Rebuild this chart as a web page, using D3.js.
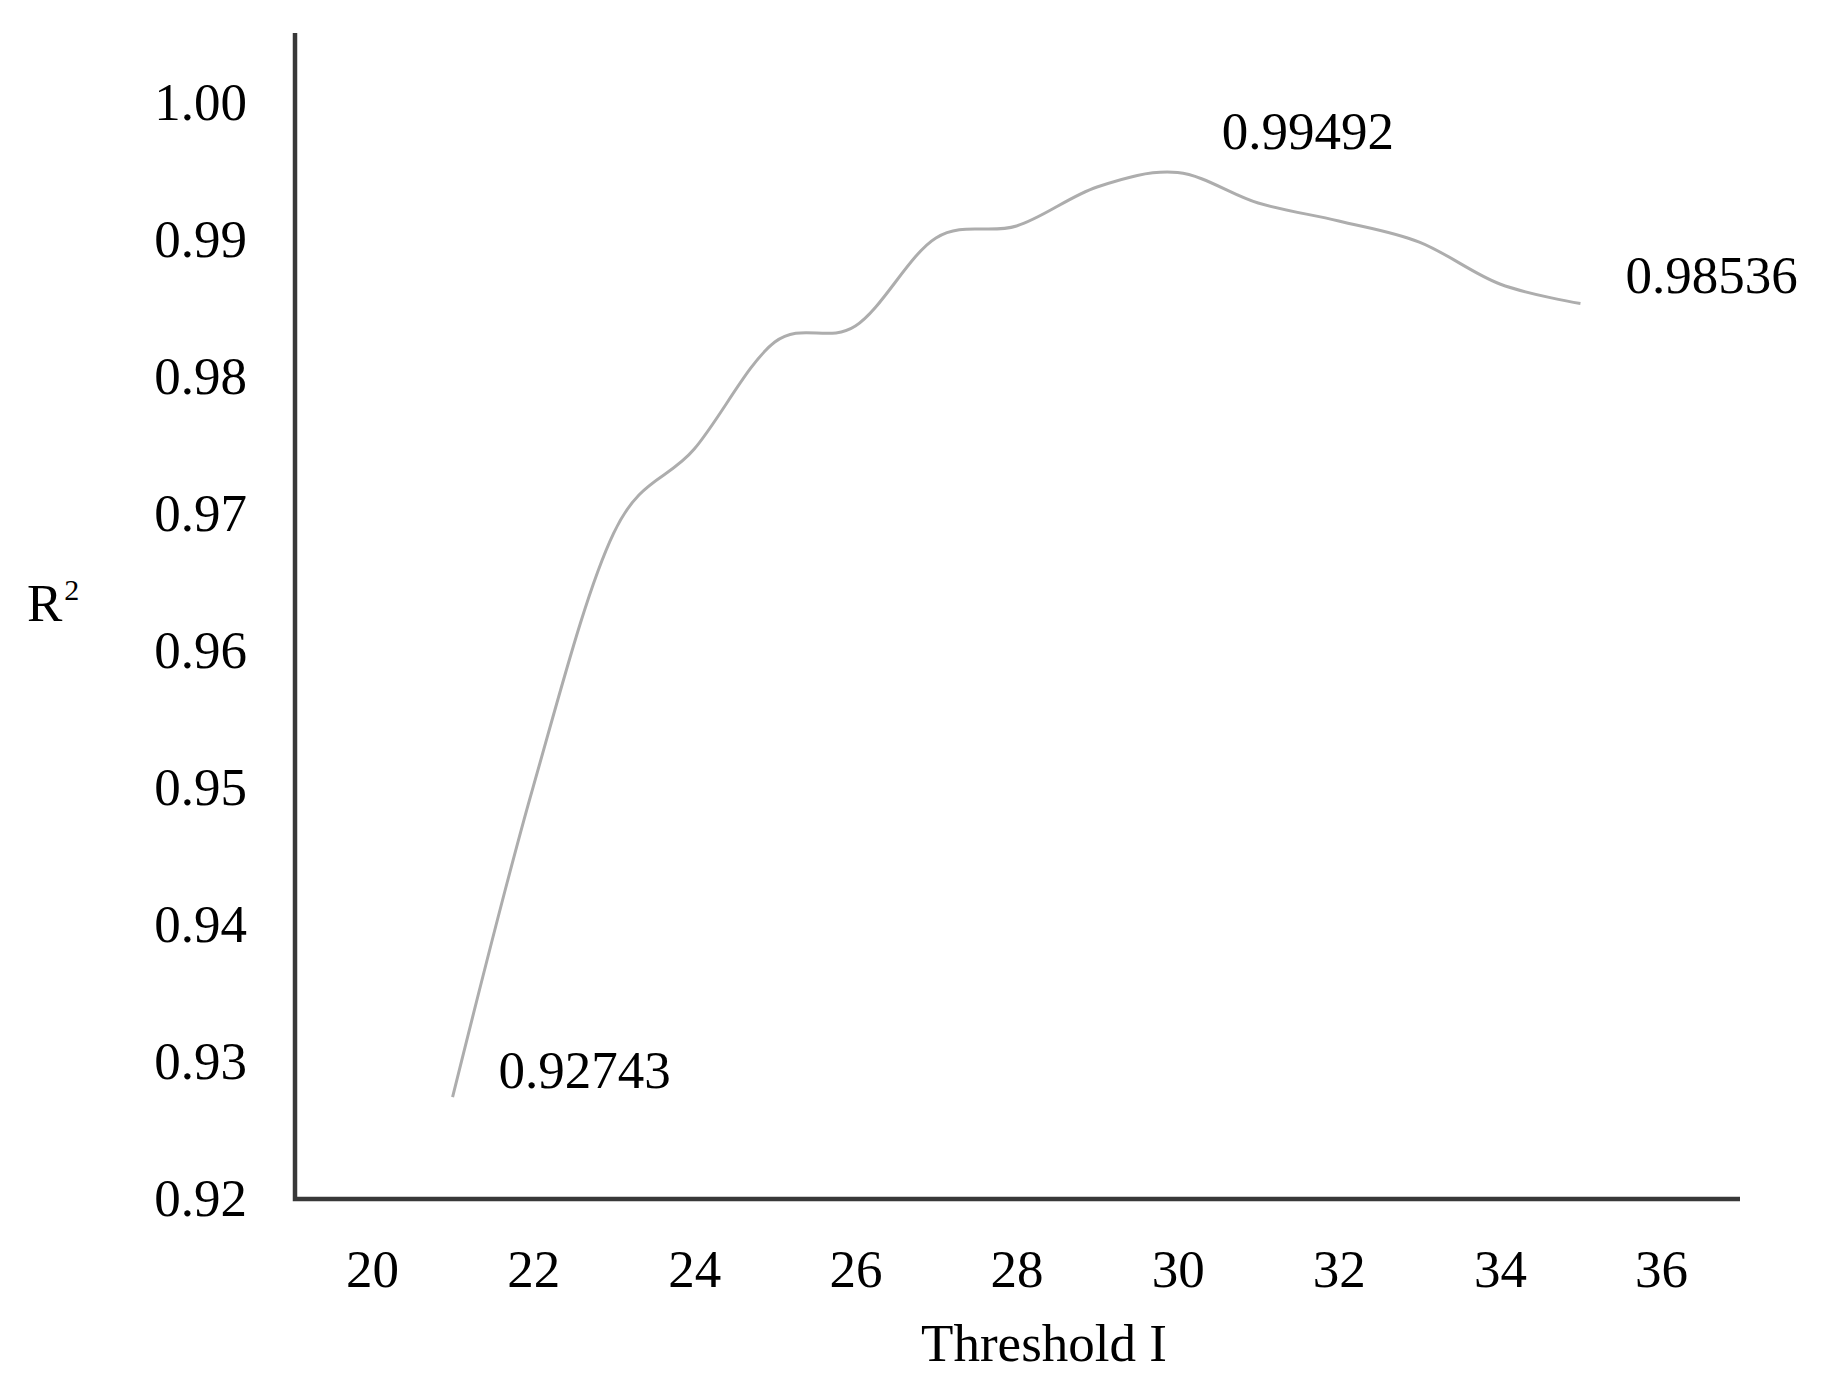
<!DOCTYPE html>
<html>
<head>
<meta charset="utf-8">
<script src="https://cdn.jsdelivr.net/npm/d3@7"></script>
<style>
  html, body { margin: 0; padding: 0; background: #ffffff; }
  svg { display: block; }
  text { font-family: "Liberation Serif", "Times New Roman", serif; fill: #000; }
</style>
</head>
<body>
<svg id="chart" width="1834" height="1396"></svg>
<script>
// ---- data ----
const thresholds = [21, 22, 23, 24, 25, 26, 27, 28, 29, 30, 31, 32, 33, 34, 35];
const r2Values   = [0.92743, 0.95007, 0.96861, 0.97474, 0.98255, 0.98372, 0.99015, 0.99102,
                    0.99387, 0.99492, 0.99270, 0.99139, 0.98985, 0.98679, 0.98536];
const xTicks = [20, 22, 24, 26, 28, 30, 32, 34, 36];
const yTicks = [0.92, 0.93, 0.94, 0.95, 0.96, 0.97, 0.98, 0.99, 1.00];
const annotatedThresholds = [21, 30, 35];
const annotationTexts = ["0.92743", "0.99492", "0.98536"];
const xTitle = "Threshold I";
const yTitle = "R";
const yTitleSup = "2";

// ---- layout ----
const svg = d3.select("#chart");
const axisX0 = 295, axisY0 = 1199, axisTop = 33, axisRight = 1740;
const fontSize = 53;

const x = d3.scaleLinear().domain([20, 36]).range([372, 1661]);
const y = d3.scaleLinear().domain([0.92, 1.00]).range([1199, 103]);

// y tick labels
const yAxis = d3.axisLeft(y).tickValues(yTicks).tickFormat(d3.format(".2f"))
  .tickSize(0).tickPadding(48);
const gy = svg.append("g").attr("transform", `translate(${axisX0},0)`).call(yAxis);
gy.select(".domain").remove();
gy.selectAll("text").attr("font-family", "Liberation Serif").attr("font-size", fontSize).attr("fill", "#000");

// x tick labels
const xAxis = d3.axisBottom(x).tickValues(xTicks).tickFormat(d3.format("d"))
  .tickSize(0).tickPadding(50);
const gx = svg.append("g").attr("transform", `translate(0,${axisY0})`).call(xAxis);
gx.select(".domain").remove();
gx.selectAll("text").attr("font-family", "Liberation Serif").attr("font-size", fontSize).attr("fill", "#000");

// data line
const data = thresholds.map((t, i) => ({ t, v: r2Values[i] }));
const line = d3.line().x(d => x(d.t)).y(d => y(d.v)).curve(d3.curveCatmullRom.alpha(0));
svg.append("path").datum(data)
  .attr("d", line)
  .attr("fill", "none")
  .attr("stroke", "#adadad")
  .attr("stroke-width", 3);

// axis lines
svg.append("path")
  .attr("d", `M${axisX0},${axisTop} L${axisX0},${axisY0} L${axisRight},${axisY0}`)
  .attr("fill", "none")
  .attr("stroke", "#383838")
  .attr("stroke-width", 4.5);

// annotations
const annOffsets = [[46, -9], [44, -24], [45, -11]];
annotatedThresholds.forEach((t, i) => {
  const v = r2Values[thresholds.indexOf(t)];
  svg.append("text")
    .attr("x", x(t) + annOffsets[i][0])
    .attr("y", y(v) + annOffsets[i][1])
    .attr("font-size", fontSize)
    .text(annotationTexts[i]);
});

// axis titles
svg.append("text")
  .attr("x", 1044).attr("y", 1361)
  .attr("text-anchor", "middle")
  .attr("font-size", fontSize)
  .text(xTitle);

const yt = svg.append("text").attr("x", 27).attr("y", 621).attr("font-size", fontSize);
yt.append("tspan").text(yTitle);
yt.append("tspan").attr("font-size", 30).attr("dx", 2).attr("dy", -21).text(yTitleSup);
</script>
</body>
</html>
